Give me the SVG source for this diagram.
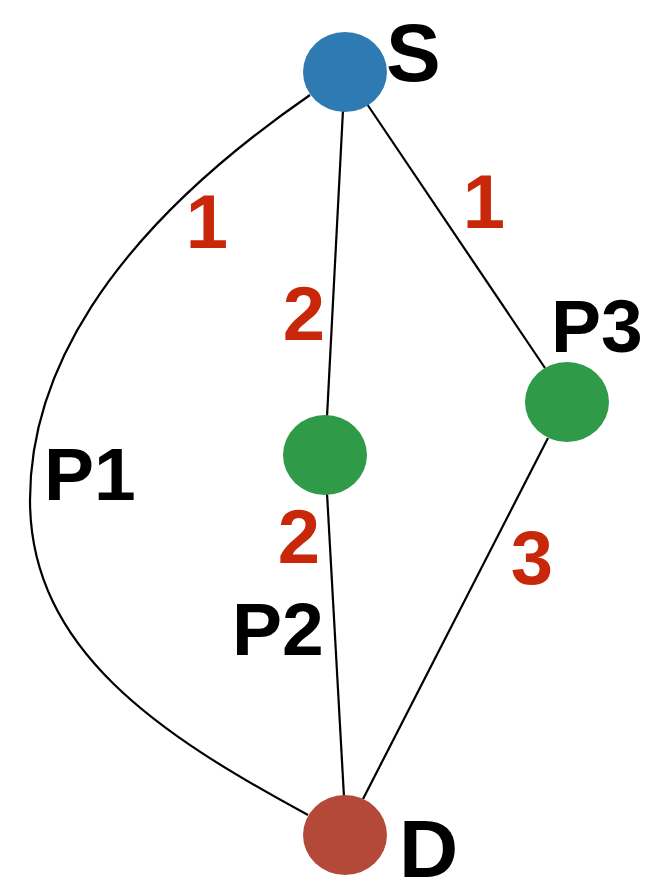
<svg xmlns="http://www.w3.org/2000/svg" width="664" height="884" viewBox="0 0 664 884">
<style>
.edge{fill:none;stroke:#000;stroke-width:2.2}
.lbl{font-family:"Liberation Sans",Arial,Helvetica,sans-serif;font-weight:bold;fill:#000;font-size:82px}
.plbl{font-family:"Liberation Sans",Arial,Helvetica,sans-serif;font-weight:bold;fill:#000;font-size:75px}
.w{font-family:"Liberation Sans",Arial,Helvetica,sans-serif;font-weight:bold;fill:#c8270a;font-size:76px;text-anchor:middle}
</style>
<rect width="664" height="884" fill="#fff"/>
<g id="connectors">
<path class="edge" d="M310,95 C100,240 30,380 30,500 C30,650 160,735 308,815"/>
<line class="edge" x1="343" y1="110" x2="327" y2="417"/>
<line class="edge" x1="327" y1="493" x2="344" y2="797"/>
<line class="edge" x1="367" y1="104" x2="545" y2="368"/>
<line class="edge" x1="548" y1="438" x2="363" y2="799"/>
<text class="w" x="207" y="248">1</text>
<text class="w" x="304" y="340">2</text>
<text class="w" x="484" y="228">1</text>
<text class="w" x="299" y="563">2</text>
<text class="w" x="532" y="584">3</text>
<text class="plbl" x="44" y="500">P1</text>
<text class="plbl" x="232" y="655">P2</text>
</g>
<g id="S">
<ellipse cx="345" cy="72" rx="42" ry="40" fill="#2e7bb3"/>
<text class="lbl" x="386" y="81">S</text>
</g>
<g id="M">
<ellipse cx="325" cy="455" rx="42" ry="40" fill="#2f9a47"/>
</g>
<g id="P3">
<ellipse cx="567" cy="402" rx="42" ry="40" fill="#2f9a47"/>
<text class="plbl" x="551" y="352">P3</text>
</g>
<g id="D">
<ellipse cx="345" cy="835" rx="42" ry="40" fill="#b4493a"/>
<text class="lbl" x="399" y="877">D</text>
</g>
</svg>
